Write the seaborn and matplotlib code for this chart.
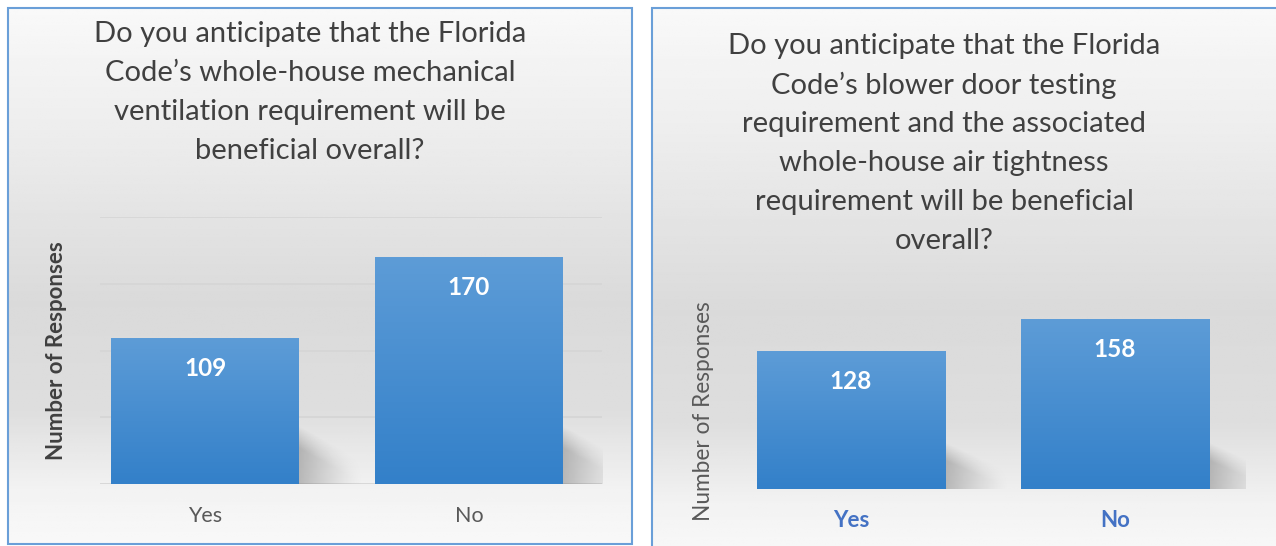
import numpy as np
import pandas as pd
import matplotlib
matplotlib.use("Agg")
import matplotlib.pyplot as plt
from matplotlib.patches import Rectangle
import seaborn as sns

# data
answers = ["Yes", "No"]
ventilation_counts = [109, 170]
blower_door_counts = [128, 158]

title_left = ["Do you anticipate that the Florida",
              "Code\u2019s whole-house mechanical",
              "ventilation requirement will be",
              "beneficial overall?"]
title_right = ["Do you anticipate that the Florida",
               "Code\u2019s blower door testing",
               "requirement and the associated",
               "whole-house air tightness",
               "requirement will be beneficial",
               "overall?"]
ylabel = "Number of Responses"

sns.set_theme(style="white")
plt.rcParams["font.family"] = ["Lato", "DejaVu Sans"]

W, H = 1276, 546
fig = plt.figure(figsize=(W / 100, H / 100), dpi=100)


def fx(px):
    return px / W


def fy(py):
    return 1 - py / H


def panel_background(x0, y0, x1, y1):
    bg = fig.add_axes([fx(x0), fy(y1), fx(x1 - x0), (y1 - y0) / H], zorder=-5)
    ys = np.linspace(0, 1, 200)
    # light at top, gray in the middle, light again at the bottom
    g = np.interp(ys, [0.0, 0.25, 0.55, 0.75, 0.9, 1.0],
                  [0.975, 0.925, 0.855, 0.87, 0.95, 0.975])
    img = np.repeat(g[:, None], 10, axis=1)
    bg.imshow(img, cmap="gray", vmin=0, vmax=1, aspect="auto",
              extent=[0, 1, 0, 1], origin="upper")
    bg.set_axis_off()
    fig.patches.append(Rectangle((fx(x0), fy(y1)), fx(x1 - x0), (y1 - y0) / H,
                                 transform=fig.transFigure, fill=False,
                                 edgecolor="#6a9fd8", linewidth=1.5, zorder=10))


def style_bars(ax):
    top_col = np.array(matplotlib.colors.to_rgb("#5d9cd7"))
    bot_col = np.array(matplotlib.colors.to_rgb("#3380c9"))
    t = np.linspace(0, 1, 100)[:, None]
    grad = top_col * (1 - t) + bot_col * t
    grad = grad[:, None, :]
    y_span = ax.get_ylim()[1] - ax.get_ylim()[0]
    for p in ax.patches:
        x0, y0 = p.get_x(), p.get_y()
        w, h = p.get_width(), p.get_height()
        im = ax.imshow(grad, extent=[x0, x0 + w, y0, y0 + h], aspect="auto",
                       origin="upper", zorder=p.get_zorder() + 0.1)
        im.set_clip_path(p)
        # soft shadow to the lower right of the bar
        sw, sh = 0.24, 0.24 * y_span
        nx, ny = 60, 60
        u = np.linspace(0, 1, nx)[None, :]
        v = np.linspace(1, 0, ny)[:, None]
        edge = 0.9 - 0.55 * u
        a = np.clip((edge - v) / 0.35, 0, 1) * (1 - u) ** 1.3 * 0.45
        rgba = np.zeros((ny, nx, 4))
        rgba[..., :3] = 0.45
        rgba[..., 3] = a
        ax.imshow(rgba, extent=[x0 + w, x0 + w + sw, y0, y0 + sh],
                  aspect="auto", origin="upper", zorder=p.get_zorder() - 0.1)


def value_labels(ax, values):
    for p, v in zip(ax.patches, values):
        ax.annotate(str(v), (p.get_x() + p.get_width() / 2, p.get_height()),
                    xytext=(0, -21.6), textcoords="offset points",
                    ha="center", va="center", color="white",
                    fontsize=17.5, fontweight="bold", zorder=5)


# ---- left panel
panel_background(8, 8, 632, 544)
for i, line in enumerate(title_left):
    fig.text(fx(310), fy(34 + 39 * i), line, ha="center", va="center",
             fontsize=21, color="#404040")

ax1 = fig.add_axes([fx(100), fy(484), fx(502), (484 - 217) / H])
df1 = pd.DataFrame({"answer": answers, "count": ventilation_counts})
sns.barplot(data=df1, x="answer", y="count", ax=ax1, color="#4a8fd0",
            width=0.712, saturation=1, linewidth=0)
ax1.set_ylim(0, 200)
ax1.set_yticks([0, 50, 100, 150, 200])
ax1.yaxis.grid(True, color="#d6d6d6", linewidth=1.3)
ax1.set_axisbelow(True)
style_bars(ax1)
ax1.set_xlim(-0.398, 1.504)
ax1.set_ylim(0, 200)
value_labels(ax1, ventilation_counts)
ax1.set_yticklabels([])
ax1.set_xlabel("")
ax1.set_ylabel("")
ax1.tick_params(axis="both", length=0)
ax1.tick_params(axis="x", pad=16, labelsize=15.5, labelcolor="#595959")
ax1.patch.set_alpha(0)
for s in ax1.spines.values():
    s.set_visible(False)
fig.text(fx(57), fy(351), ylabel, rotation=90, ha="center", va="center",
         fontsize=16, fontweight="bold", color="#404040")

# ---- right panel
panel_background(652, 8, 1284, 560)
for i, line in enumerate(title_right):
    fig.text(fx(944), fy(46 + 39 * i), line, ha="center", va="center",
             fontsize=21, color="#404040")

ax2 = fig.add_axes([fx(744), fy(489), fx(502), (489 - 274) / H])
df2 = pd.DataFrame({"answer": answers, "count": blower_door_counts})
sns.barplot(data=df2, x="answer", y="count", ax=ax2, color="#4a8fd0",
            width=0.712, saturation=1, linewidth=0)
ax2.set_ylim(0, 200)
style_bars(ax2)
ax2.set_xlim(-0.405, 1.496)
ax2.set_ylim(0, 200)
value_labels(ax2, blower_door_counts)
ax2.set_yticks([])
ax2.set_xlabel("")
ax2.set_ylabel("")
ax2.tick_params(axis="both", length=0)
ax2.tick_params(axis="x", pad=15, labelsize=16, labelcolor="#4472c4")
for lab in ax2.get_xticklabels():
    lab.set_fontweight("bold")
ax2.patch.set_alpha(0)
for s in ax2.spines.values():
    s.set_visible(False)
fig.text(fx(703), fy(411), ylabel, rotation=90, ha="center", va="center",
         fontsize=16.3, color="#595959")

fig.savefig("out.png", dpi=100, facecolor="white")
